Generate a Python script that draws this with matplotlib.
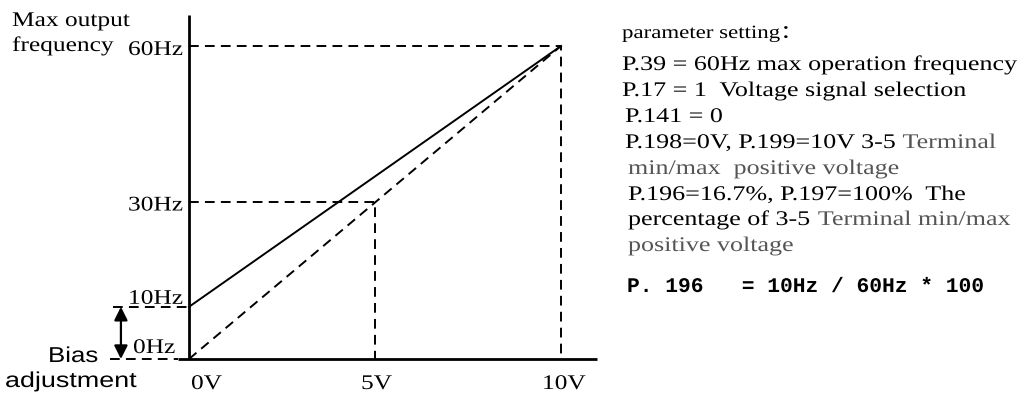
import matplotlib
matplotlib.use("Agg")
import matplotlib.pyplot as plt
from matplotlib import patheffects
from matplotlib.transforms import Affine2D

# data
volts = [0, 5, 10]
volt_labels = ["0V", "5V", "10V"]
freqs = [0, 10, 30, 60]
freq_labels = ["0Hz", "10Hz", "30Hz", "60Hz"]
bias_line_v = [0, 10]
bias_line_f = [10, 60]
plain_line_v = [0, 10]
plain_line_f = [0, 60]
mid_v, mid_f = 5, 30
bias_f = 10

notes = [
    ("parameter setting\uff1a", "k"),
    ("P.39 = 60Hz max operation frequency", "k"),
    ("P.17 = 1  Voltage signal selection", "k"),
    ("P.141 = 0", "k"),
    [("P.198=0V, P.199=10V 3-5 ", "k"), ("Terminal", "#555555")],
    ("min/max  positive voltage", "#555555"),
    ("P.196=16.7%, P.197=100%  The", "k"),
    [("percentage of 3-5 ", "k"), ("Terminal min/max", "#555555")],
    ("positive voltage", "#555555"),
]
formula = "P. 196   = 10Hz / 60Hz * 100"

W, H = 1026, 394
X0, Y0 = 189, 359          # pixel of (0V, 0Hz)
SX, SY = 37.2, 5.217       # pixels per volt / per Hz
STR = 1.22                 # horizontal stretch of the reference lettering
NSTR = 1.25                # same, for the parameter notes


class Stretch(patheffects.AbstractPathEffect):
    # the reference text is drawn wider than the normal font
    def __init__(self, sx):
        super().__init__()
        self.sx = sx

    def draw_path(self, renderer, gc, tpath, affine, rgbFace=None):
        renderer.draw_path(gc, tpath, Affine2D().scale(self.sx, 1) + affine, rgbFace)


wide = [Stretch(STR)]
serif = ["Liberation Serif", "Noto Sans CJK SC", "DejaVu Sans"]


def put(xp, yp, s, size=15, family=serif, color="k", pe=wide, **kw):
    return fig.text(xp / W, 1 - yp / H, s, fontsize=size, family=family,
                    color=color, ha="left", va="baseline", path_effects=pe, **kw)


fig = plt.figure(figsize=(W / 100, H / 100), dpi=100)
ax = fig.add_axes([0, 0, 1, 1])
ax.set_xlim(-X0 / SX, (W - X0) / SX)
ax.set_ylim(-(H - Y0) / SY, Y0 / SY)
ax.axis("off")

# axes
ax.plot([0, 0], [0, max(freqs) * 1.098], color="k", lw=2, solid_capstyle="butt")
ax.plot([-0.3, max(volts) * 1.097], [0, 0], color="k", lw=2, solid_capstyle="butt")

dash = dict(color="k", lw=1.4, dashes=(5, 3.2))
# guide lines
ax.plot([0, max(volts), max(volts)], [max(freqs), max(freqs), 0], **dash)
ax.plot([0, mid_v, mid_v], [mid_f, mid_f, 0], **dash)
ax.plot([-2.04, 0], [bias_f, bias_f], **dash)
ax.plot([-2.12, -0.3], [0, 0], **dash)

# characteristic lines
ax.plot(bias_line_v, bias_line_f, color="k", lw=1.4)
ax.plot(plain_line_v, plain_line_f, **dash)

# bias arrow
ax.annotate("", xy=(-1.83, 0), xytext=(-1.83, bias_f),
            arrowprops=dict(arrowstyle="<|-|>", color="k", lw=1.6,
                            mutation_scale=20, shrinkA=0, shrinkB=0))

# tick labels
ylab_x = {0: 133, 10: 128, 30: 128, 60: 128}
ylab_dy = {0: -6, 10: -3, 30: 8, 60: 9}
for f, lab in zip(freqs, freq_labels):
    put(ylab_x[f], Y0 - f * SY + ylab_dy[f], lab)
xlab_x = {0: 191, 5: 361, 10: 542}
for v, lab in zip(volts, volt_labels):
    put(xlab_x[v], 389, lab)

put(12, 26, "Max output")
put(12, 51, "frequency")
sans = ["Liberation Sans", "DejaVu Sans"]
put(48, 362, "Bias", size=15.5, family=sans, pe=[Stretch(1.2)])
put(5, 387, "adjustment", size=15.5, family=sans, pe=[Stretch(1.25)])

# parameter notes
note_x = [622, 622, 622, 625, 625, 628, 628, 628, 628]
note_y = [38, 70, 96, 122, 148, 174, 200, 225, 251]
npe = [Stretch(NSTR)]
for xp, yp, item in zip(note_x, note_y, notes):
    if yp < 40:
        put(xp, yp, item[0], size=13.5, color=item[1])
    elif isinstance(item, tuple):
        put(xp, yp, item[0], size=15, color=item[1], pe=npe)
    else:
        t = None
        for s, c in item:
            if t is None:
                t = put(xp, yp, s, size=15, color=c, pe=npe)
            else:
                # continue after the stretched width of the previous piece
                t = ax.annotate(s, xycoords=t, xy=(NSTR, 0), va="bottom", ha="left",
                                fontsize=15, family=serif, color=c, path_effects=npe)

put(627, 292, formula, size=15, family=["Liberation Mono", "DejaVu Sans Mono"],
    weight="bold", pe=[Stretch(1.02)])

fig.savefig("out.png", dpi=100)
